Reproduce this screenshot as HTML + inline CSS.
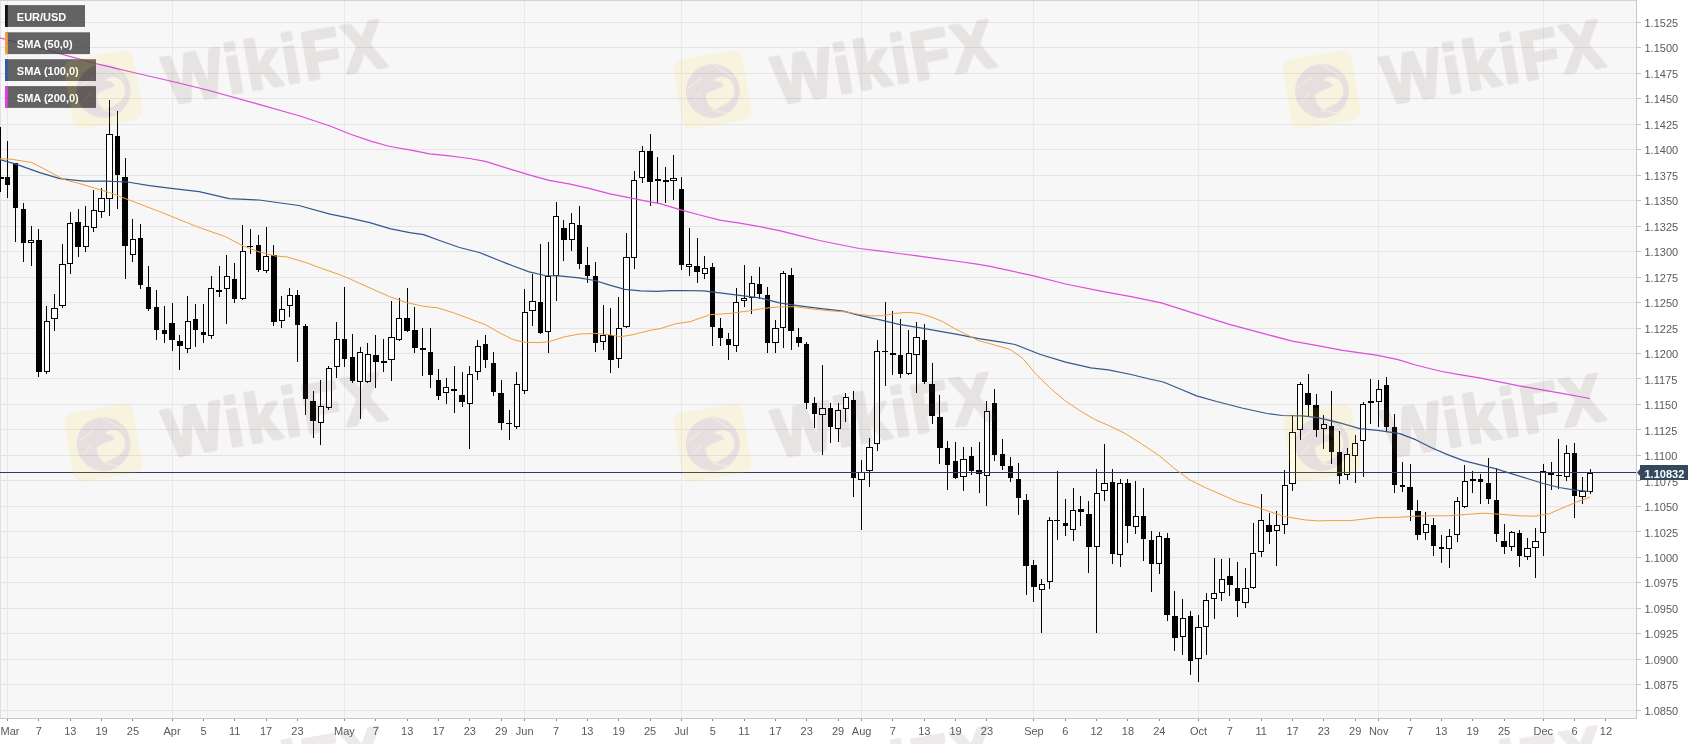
<!DOCTYPE html>
<html lang="en"><head><meta charset="utf-8"><title>EUR/USD daily chart</title>
<style>html,body{margin:0;padding:0;background:#fff}body{width:1707px;height:744px;overflow:hidden}svg{display:block;will-change:transform;opacity:0.999}text{font-family:"Liberation Sans",Arial,sans-serif}.ax{font-size:11px;fill:#5a5a5a}.lg{font-size:11px;font-weight:bold;fill:#fff}.wm{font-size:68px;font-weight:bold;fill:#715048;stroke:#715048;stroke-width:3px;stroke-linejoin:round;letter-spacing:3px}</style></head><body>
<svg width="1707" height="744" viewBox="0 0 1707 744">
<rect x="0" y="0" width="1707" height="744" fill="#fff"/>
<defs><clipPath id="cp"><rect x="0" y="0" width="1636.5" height="718.0"/></clipPath></defs>
<rect x="0" y="0" width="1636.5" height="718.0" fill="#f7f7f7"/>
<g stroke="#e4e4e4" stroke-width="1" shape-rendering="crispEdges">
<line x1="0" y1="22.2" x2="1636.5" y2="22.2"/>
<line x1="0" y1="47.69" x2="1636.5" y2="47.69"/>
<line x1="0" y1="73.17" x2="1636.5" y2="73.17"/>
<line x1="0" y1="98.66" x2="1636.5" y2="98.66"/>
<line x1="0" y1="124.14" x2="1636.5" y2="124.14"/>
<line x1="0" y1="149.62" x2="1636.5" y2="149.62"/>
<line x1="0" y1="175.11" x2="1636.5" y2="175.11"/>
<line x1="0" y1="200.59" x2="1636.5" y2="200.59"/>
<line x1="0" y1="226.08" x2="1636.5" y2="226.08"/>
<line x1="0" y1="251.56" x2="1636.5" y2="251.56"/>
<line x1="0" y1="277.05" x2="1636.5" y2="277.05"/>
<line x1="0" y1="302.53" x2="1636.5" y2="302.53"/>
<line x1="0" y1="328.02" x2="1636.5" y2="328.02"/>
<line x1="0" y1="353.5" x2="1636.5" y2="353.5"/>
<line x1="0" y1="378.99" x2="1636.5" y2="378.99"/>
<line x1="0" y1="404.47" x2="1636.5" y2="404.47"/>
<line x1="0" y1="429.96" x2="1636.5" y2="429.96"/>
<line x1="0" y1="455.44" x2="1636.5" y2="455.44"/>
<line x1="0" y1="480.93" x2="1636.5" y2="480.93"/>
<line x1="0" y1="506.41" x2="1636.5" y2="506.41"/>
<line x1="0" y1="531.9" x2="1636.5" y2="531.9"/>
<line x1="0" y1="557.38" x2="1636.5" y2="557.38"/>
<line x1="0" y1="582.87" x2="1636.5" y2="582.87"/>
<line x1="0" y1="608.36" x2="1636.5" y2="608.36"/>
<line x1="0" y1="633.84" x2="1636.5" y2="633.84"/>
<line x1="0" y1="659.33" x2="1636.5" y2="659.33"/>
<line x1="0" y1="684.81" x2="1636.5" y2="684.81"/>
<line x1="0" y1="710.3" x2="1636.5" y2="710.3"/>
<line x1="7.57" y1="0" x2="7.57" y2="718.0" stroke="#e9e9e9"/>
<line x1="172.1" y1="0" x2="172.1" y2="718.0" stroke="#e9e9e9"/>
<line x1="344.47" y1="0" x2="344.47" y2="718.0" stroke="#e9e9e9"/>
<line x1="524.68" y1="0" x2="524.68" y2="718.0" stroke="#e9e9e9"/>
<line x1="681.38" y1="0" x2="681.38" y2="718.0" stroke="#e9e9e9"/>
<line x1="861.59" y1="0" x2="861.59" y2="718.0" stroke="#e9e9e9"/>
<line x1="1033.95" y1="0" x2="1033.95" y2="718.0" stroke="#e9e9e9"/>
<line x1="1198.49" y1="0" x2="1198.49" y2="718.0" stroke="#e9e9e9"/>
<line x1="1378.69" y1="0" x2="1378.69" y2="718.0" stroke="#e9e9e9"/>
<line x1="1543.23" y1="0" x2="1543.23" y2="718.0" stroke="#e9e9e9"/>
<line x1="0.5" y1="0" x2="0.5" y2="718.0" stroke="#dfe1e6"/>
</g>
<line x1="0" y1="0.5" x2="1636.5" y2="0.5" stroke="#cfd2da" stroke-width="1"/>
<g clip-path="url(#cp)">
<g stroke="#000" stroke-width="1" shape-rendering="crispEdges">
<line x1="0.5" y1="126.9" x2="0.5" y2="191.6"/>
<rect x="-2.1" y="177.2" width="5.2" height="1.5" fill="#fff"/>
<line x1="7.57" y1="140.8" x2="7.57" y2="197.6"/>
<rect x="4.87" y="176.7" width="5.4" height="8.5" fill="#000" stroke="none"/>
<line x1="15.41" y1="162.7" x2="15.41" y2="241.9"/>
<rect x="12.71" y="162.7" width="5.4" height="44.8" fill="#000" stroke="none"/>
<line x1="23.24" y1="202.5" x2="23.24" y2="261.9"/>
<rect x="20.54" y="208.5" width="5.4" height="34.4" fill="#000" stroke="none"/>
<line x1="31.07" y1="225.5" x2="31.07" y2="265.8"/>
<rect x="28.47" y="240.4" width="5.2" height="2.4" fill="#fff"/>
<line x1="38.91" y1="229.4" x2="38.91" y2="377.4"/>
<rect x="36.21" y="239.9" width="5.4" height="131.9" fill="#000" stroke="none"/>
<line x1="46.74" y1="306.3" x2="46.74" y2="374.2"/>
<rect x="44.14" y="321.7" width="5.2" height="50.2" fill="#fff"/>
<line x1="54.58" y1="293.7" x2="54.58" y2="330.6"/>
<rect x="51.98" y="308.8" width="5.2" height="9.7" fill="#fff"/>
<line x1="62.41" y1="243.9" x2="62.41" y2="307.7"/>
<rect x="59.81" y="264.9" width="5.2" height="40.9" fill="#fff"/>
<line x1="70.25" y1="211.5" x2="70.25" y2="273.8"/>
<rect x="67.65" y="223.6" width="5.2" height="40.1" fill="#fff"/>
<line x1="78.09" y1="208.5" x2="78.09" y2="256.9"/>
<rect x="75.39" y="222.1" width="5.4" height="25.2" fill="#000" stroke="none"/>
<line x1="85.92" y1="205.5" x2="85.92" y2="251.9"/>
<rect x="83.32" y="226" width="5.2" height="20.8" fill="#fff"/>
<line x1="93.75" y1="189.6" x2="93.75" y2="232.4"/>
<rect x="91.16" y="210.6" width="5.2" height="17.3" fill="#fff"/>
<line x1="101.59" y1="187.6" x2="101.59" y2="217.5"/>
<rect x="98.99" y="198.5" width="5.2" height="13.1" fill="#fff"/>
<line x1="109.43" y1="100" x2="109.43" y2="215.5"/>
<rect x="106.83" y="134.7" width="5.2" height="64" fill="#fff"/>
<line x1="117.26" y1="110.5" x2="117.26" y2="208.5"/>
<rect x="114.56" y="135.8" width="5.4" height="39.3" fill="#000" stroke="none"/>
<line x1="125.09" y1="158.3" x2="125.09" y2="279.2"/>
<rect x="122.39" y="177.1" width="5.4" height="69.2" fill="#000" stroke="none"/>
<line x1="132.93" y1="218.5" x2="132.93" y2="261.9"/>
<rect x="130.33" y="239" width="5.2" height="15.8" fill="#fff"/>
<line x1="140.76" y1="223.5" x2="140.76" y2="288.7"/>
<rect x="138.06" y="237.9" width="5.4" height="47.3" fill="#000" stroke="none"/>
<line x1="148.6" y1="265.8" x2="148.6" y2="310.7"/>
<rect x="145.9" y="287.2" width="5.4" height="21.5" fill="#000" stroke="none"/>
<line x1="156.44" y1="289.7" x2="156.44" y2="339.5"/>
<rect x="153.74" y="307.1" width="5.4" height="22.9" fill="#000" stroke="none"/>
<line x1="164.27" y1="305.7" x2="164.27" y2="342.9"/>
<rect x="161.57" y="330" width="5.4" height="4.2" fill="#000" stroke="none"/>
<line x1="172.1" y1="302.7" x2="172.1" y2="350.5"/>
<rect x="169.41" y="322.6" width="5.4" height="17.5" fill="#000" stroke="none"/>
<line x1="179.94" y1="334.6" x2="179.94" y2="370.4"/>
<rect x="177.24" y="340.5" width="5.4" height="5" fill="#000" stroke="none"/>
<line x1="187.78" y1="296.3" x2="187.78" y2="353.1"/>
<rect x="185.18" y="321.1" width="5.2" height="27.3" fill="#fff"/>
<line x1="195.61" y1="303.7" x2="195.61" y2="346.9"/>
<rect x="192.91" y="318.6" width="5.4" height="11.4" fill="#000" stroke="none"/>
<line x1="203.44" y1="304.3" x2="203.44" y2="342.9"/>
<rect x="200.75" y="332" width="5.4" height="3.2" fill="#000" stroke="none"/>
<line x1="211.28" y1="276.4" x2="211.28" y2="338.9"/>
<rect x="208.68" y="288.2" width="5.2" height="46.9" fill="#fff"/>
<line x1="219.11" y1="266.4" x2="219.11" y2="297.1"/>
<rect x="216.51" y="290.8" width="5.2" height="1" fill="#fff"/>
<line x1="226.95" y1="254.9" x2="226.95" y2="323.6"/>
<rect x="224.35" y="276.9" width="5.2" height="11.3" fill="#fff"/>
<line x1="234.78" y1="263.2" x2="234.78" y2="303.1"/>
<rect x="232.09" y="278.8" width="5.4" height="19.9" fill="#000" stroke="none"/>
<line x1="242.62" y1="224.5" x2="242.62" y2="300.3"/>
<rect x="240.02" y="251.4" width="5.2" height="46.8" fill="#fff"/>
<line x1="250.45" y1="229.4" x2="250.45" y2="253.9"/>
<line x1="247.45" y1="246.7" x2="253.45" y2="246.7" stroke-width="1.4"/>
<line x1="258.29" y1="235.4" x2="258.29" y2="272.4"/>
<rect x="255.59" y="244.9" width="5.4" height="25.5" fill="#000" stroke="none"/>
<line x1="266.12" y1="226.5" x2="266.12" y2="272.8"/>
<rect x="263.52" y="256.4" width="5.2" height="14.3" fill="#fff"/>
<line x1="273.96" y1="245.3" x2="273.96" y2="326.2"/>
<rect x="271.26" y="254.5" width="5.4" height="67.1" fill="#000" stroke="none"/>
<line x1="281.8" y1="295.7" x2="281.8" y2="328.2"/>
<rect x="279.19" y="309.8" width="5.2" height="10.3" fill="#fff"/>
<line x1="289.63" y1="287.7" x2="289.63" y2="316.6"/>
<rect x="287.03" y="295.6" width="5.2" height="10.2" fill="#fff"/>
<line x1="297.46" y1="289.7" x2="297.46" y2="361.5"/>
<rect x="294.76" y="295.1" width="5.4" height="29.5" fill="#000" stroke="none"/>
<line x1="305.3" y1="323.6" x2="305.3" y2="414.7"/>
<rect x="302.6" y="326.2" width="5.4" height="72.5" fill="#000" stroke="none"/>
<line x1="313.13" y1="390.8" x2="313.13" y2="437.6"/>
<rect x="310.44" y="401.3" width="5.4" height="19.3" fill="#000" stroke="none"/>
<line x1="320.97" y1="379.8" x2="320.97" y2="444.5"/>
<rect x="318.37" y="406.6" width="5.2" height="16.1" fill="#fff"/>
<line x1="328.81" y1="365.5" x2="328.81" y2="410.1"/>
<rect x="326.2" y="368.7" width="5.2" height="38.9" fill="#fff"/>
<line x1="336.64" y1="322.4" x2="336.64" y2="377.8"/>
<rect x="334.04" y="339.1" width="5.2" height="27.6" fill="#fff"/>
<line x1="344.47" y1="286.5" x2="344.47" y2="366.6"/>
<rect x="341.77" y="338.7" width="5.4" height="19.9" fill="#000" stroke="none"/>
<line x1="352.31" y1="333.7" x2="352.31" y2="383.2"/>
<rect x="349.61" y="357.2" width="5.4" height="24" fill="#000" stroke="none"/>
<line x1="360.14" y1="346.6" x2="360.14" y2="419.4"/>
<rect x="357.54" y="352.5" width="5.2" height="29.2" fill="#fff"/>
<line x1="367.98" y1="342.6" x2="367.98" y2="383"/>
<rect x="365.38" y="354.5" width="5.2" height="27.2" fill="#fff"/>
<line x1="375.81" y1="334.7" x2="375.81" y2="387.5"/>
<rect x="373.12" y="355.2" width="5.4" height="6.4" fill="#000" stroke="none"/>
<line x1="383.65" y1="338.7" x2="383.65" y2="371.5"/>
<line x1="380.65" y1="362" x2="386.65" y2="362" stroke-width="1.4"/>
<line x1="391.49" y1="301.4" x2="391.49" y2="380.5"/>
<rect x="388.88" y="337.8" width="5.2" height="21.9" fill="#fff"/>
<line x1="399.32" y1="298.4" x2="399.32" y2="340.5"/>
<rect x="396.72" y="318.8" width="5.2" height="20.4" fill="#fff"/>
<line x1="407.15" y1="287.5" x2="407.15" y2="331.5"/>
<rect x="404.45" y="318.3" width="5.4" height="12.4" fill="#000" stroke="none"/>
<line x1="414.99" y1="307.4" x2="414.99" y2="352.6"/>
<rect x="412.29" y="330.3" width="5.4" height="17.3" fill="#000" stroke="none"/>
<line x1="422.82" y1="327.7" x2="422.82" y2="376.1"/>
<line x1="419.82" y1="349" x2="425.82" y2="349" stroke-width="1.4"/>
<line x1="430.66" y1="327.7" x2="430.66" y2="387.5"/>
<rect x="427.96" y="351.6" width="5.4" height="23.5" fill="#000" stroke="none"/>
<line x1="438.5" y1="368.5" x2="438.5" y2="400.3"/>
<rect x="435.8" y="380.1" width="5.4" height="15.5" fill="#000" stroke="none"/>
<line x1="446.33" y1="377.5" x2="446.33" y2="404.3"/>
<rect x="443.73" y="387" width="5.2" height="5.7" fill="#fff"/>
<line x1="454.16" y1="365.6" x2="454.16" y2="413.4"/>
<rect x="451.46" y="388.5" width="5.4" height="2.9" fill="#000" stroke="none"/>
<line x1="462" y1="371.5" x2="462" y2="406.5"/>
<rect x="459.3" y="394.5" width="5.4" height="7.4" fill="#000" stroke="none"/>
<line x1="469.83" y1="365.6" x2="469.83" y2="448.7"/>
<rect x="467.23" y="374" width="5.2" height="29.8" fill="#fff"/>
<line x1="477.67" y1="339.7" x2="477.67" y2="380.2"/>
<rect x="475.07" y="346.1" width="5.2" height="25.8" fill="#fff"/>
<line x1="485.5" y1="335.3" x2="485.5" y2="367.5"/>
<rect x="482.81" y="344.2" width="5.4" height="15.4" fill="#000" stroke="none"/>
<line x1="493.34" y1="351.6" x2="493.34" y2="395.5"/>
<rect x="490.64" y="362.6" width="5.4" height="29.1" fill="#000" stroke="none"/>
<line x1="501.18" y1="379.5" x2="501.18" y2="430.4"/>
<rect x="498.48" y="392.8" width="5.4" height="30.6" fill="#000" stroke="none"/>
<line x1="509.01" y1="410.4" x2="509.01" y2="439.7"/>
<line x1="506.01" y1="423.4" x2="512.01" y2="423.4" stroke-width="1.4"/>
<line x1="516.85" y1="371.7" x2="516.85" y2="429.4"/>
<rect x="514.25" y="384" width="5.2" height="42.3" fill="#fff"/>
<line x1="524.68" y1="288.5" x2="524.68" y2="394.3"/>
<rect x="522.08" y="312.3" width="5.2" height="78.4" fill="#fff"/>
<line x1="532.52" y1="273.9" x2="532.52" y2="326.3"/>
<rect x="529.92" y="301.3" width="5.2" height="9.6" fill="#fff"/>
<line x1="540.35" y1="244.1" x2="540.35" y2="334"/>
<rect x="537.65" y="301.8" width="5.4" height="31.5" fill="#000" stroke="none"/>
<line x1="548.19" y1="241.5" x2="548.19" y2="353.2"/>
<rect x="545.59" y="276" width="5.2" height="55.8" fill="#fff"/>
<line x1="556.02" y1="202.3" x2="556.02" y2="301.2"/>
<rect x="553.42" y="216.7" width="5.2" height="58.3" fill="#fff"/>
<line x1="563.86" y1="219.6" x2="563.86" y2="261.3"/>
<rect x="561.15" y="228.2" width="5.4" height="11.3" fill="#000" stroke="none"/>
<line x1="571.69" y1="212.6" x2="571.69" y2="250.5"/>
<rect x="569.09" y="223.7" width="5.2" height="15.3" fill="#fff"/>
<line x1="579.53" y1="206.3" x2="579.53" y2="268.9"/>
<rect x="576.83" y="225.2" width="5.4" height="39.2" fill="#000" stroke="none"/>
<line x1="587.36" y1="246.5" x2="587.36" y2="282.9"/>
<rect x="584.66" y="264.5" width="5.4" height="11.4" fill="#000" stroke="none"/>
<line x1="595.2" y1="261.5" x2="595.2" y2="351.6"/>
<rect x="592.5" y="275.5" width="5.4" height="67.7" fill="#000" stroke="none"/>
<line x1="603.03" y1="305.4" x2="603.03" y2="350.2"/>
<rect x="600.43" y="335.8" width="5.2" height="6" fill="#fff"/>
<line x1="610.87" y1="308.4" x2="610.87" y2="372.5"/>
<rect x="608.16" y="335.3" width="5.4" height="24.3" fill="#000" stroke="none"/>
<line x1="618.7" y1="297.4" x2="618.7" y2="367.5"/>
<rect x="616.1" y="328.2" width="5.2" height="30.5" fill="#fff"/>
<line x1="626.54" y1="232.6" x2="626.54" y2="327.5"/>
<rect x="623.94" y="257" width="5.2" height="69.2" fill="#fff"/>
<line x1="634.37" y1="171.2" x2="634.37" y2="269.4"/>
<rect x="631.77" y="180.9" width="5.2" height="76.1" fill="#fff"/>
<line x1="642.21" y1="145.5" x2="642.21" y2="183.2"/>
<rect x="639.61" y="151.4" width="5.2" height="26.5" fill="#fff"/>
<line x1="650.04" y1="134" x2="650.04" y2="206.3"/>
<rect x="647.34" y="150.9" width="5.4" height="31.5" fill="#000" stroke="none"/>
<line x1="657.88" y1="156.9" x2="657.88" y2="202.7"/>
<rect x="655.27" y="179.7" width="5.2" height="1.2" fill="#fff"/>
<line x1="665.71" y1="167.4" x2="665.71" y2="203.1"/>
<line x1="662.71" y1="181" x2="668.71" y2="181" stroke-width="1.4"/>
<line x1="673.55" y1="155.3" x2="673.55" y2="200.3"/>
<rect x="670.95" y="178.9" width="5.2" height="2" fill="#fff"/>
<line x1="681.38" y1="177.2" x2="681.38" y2="270.2"/>
<rect x="678.68" y="189.1" width="5.4" height="76.3" fill="#000" stroke="none"/>
<line x1="689.22" y1="228.2" x2="689.22" y2="275.9"/>
<rect x="686.62" y="264.5" width="5.2" height="1.5" fill="#fff"/>
<line x1="697.05" y1="238.1" x2="697.05" y2="282.9"/>
<rect x="694.35" y="266.4" width="5.4" height="5.5" fill="#000" stroke="none"/>
<line x1="704.88" y1="255.5" x2="704.88" y2="279.3"/>
<rect x="702.28" y="268.7" width="5.2" height="4.3" fill="#fff"/>
<line x1="712.72" y1="262.5" x2="712.72" y2="346.2"/>
<rect x="710.02" y="267.1" width="5.4" height="59.6" fill="#000" stroke="none"/>
<line x1="720.56" y1="317.7" x2="720.56" y2="346.2"/>
<rect x="717.86" y="328.3" width="5.4" height="10" fill="#000" stroke="none"/>
<line x1="728.39" y1="332.7" x2="728.39" y2="360.2"/>
<rect x="725.69" y="339.3" width="5.4" height="5.3" fill="#000" stroke="none"/>
<line x1="736.23" y1="287.9" x2="736.23" y2="352.2"/>
<rect x="733.62" y="302.7" width="5.2" height="42.4" fill="#fff"/>
<line x1="744.06" y1="265.4" x2="744.06" y2="307.2"/>
<rect x="741.46" y="298.3" width="5.2" height="2.4" fill="#fff"/>
<line x1="751.9" y1="275.5" x2="751.9" y2="314.2"/>
<rect x="749.3" y="283" width="5.2" height="14.7" fill="#fff"/>
<line x1="759.73" y1="266.5" x2="759.73" y2="299.2"/>
<rect x="757.03" y="284.3" width="5.4" height="9.5" fill="#000" stroke="none"/>
<line x1="767.57" y1="286.9" x2="767.57" y2="352.6"/>
<rect x="764.87" y="295.2" width="5.4" height="47.4" fill="#000" stroke="none"/>
<line x1="775.4" y1="319.7" x2="775.4" y2="353.2"/>
<rect x="772.8" y="328.2" width="5.2" height="13.9" fill="#fff"/>
<line x1="783.24" y1="271.3" x2="783.24" y2="348.2"/>
<rect x="780.63" y="273.8" width="5.2" height="54" fill="#fff"/>
<line x1="791.07" y1="268.3" x2="791.07" y2="350.2"/>
<rect x="788.37" y="274.9" width="5.4" height="56.2" fill="#000" stroke="none"/>
<line x1="798.91" y1="327.7" x2="798.91" y2="347.2"/>
<rect x="796.21" y="337.3" width="5.4" height="5.3" fill="#000" stroke="none"/>
<line x1="806.74" y1="341.7" x2="806.74" y2="409.3"/>
<rect x="804.04" y="344.2" width="5.4" height="59.1" fill="#000" stroke="none"/>
<line x1="814.58" y1="397.4" x2="814.58" y2="428.2"/>
<rect x="811.88" y="402.5" width="5.4" height="11.4" fill="#000" stroke="none"/>
<line x1="822.41" y1="365.2" x2="822.41" y2="454.7"/>
<rect x="819.81" y="408" width="5.2" height="6.8" fill="#fff"/>
<line x1="830.25" y1="402.5" x2="830.25" y2="443.4"/>
<rect x="827.54" y="407.9" width="5.4" height="18.9" fill="#000" stroke="none"/>
<line x1="838.08" y1="402.9" x2="838.08" y2="442.2"/>
<rect x="835.48" y="410" width="5.2" height="18.7" fill="#fff"/>
<line x1="845.92" y1="392.5" x2="845.92" y2="421.9"/>
<rect x="843.32" y="397.5" width="5.2" height="10.9" fill="#fff"/>
<line x1="853.75" y1="390.5" x2="853.75" y2="496.6"/>
<rect x="851.05" y="399.9" width="5.4" height="78.3" fill="#000" stroke="none"/>
<line x1="861.59" y1="459.7" x2="861.59" y2="530.4"/>
<rect x="858.99" y="472.6" width="5.2" height="7.1" fill="#fff"/>
<line x1="869.42" y1="437.8" x2="869.42" y2="486.6"/>
<rect x="866.82" y="447.3" width="5.2" height="23.3" fill="#fff"/>
<line x1="877.25" y1="339.7" x2="877.25" y2="450.7"/>
<rect x="874.65" y="351.1" width="5.2" height="92.2" fill="#fff"/>
<line x1="885.09" y1="302.4" x2="885.09" y2="386.1"/>
<line x1="882.09" y1="351.2" x2="888.09" y2="351.2" stroke-width="1.4"/>
<line x1="892.93" y1="310.8" x2="892.93" y2="375.1"/>
<line x1="889.93" y1="354" x2="895.93" y2="354" stroke-width="1.4"/>
<line x1="900.76" y1="319.1" x2="900.76" y2="377.5"/>
<rect x="898.06" y="355.2" width="5.4" height="18.3" fill="#000" stroke="none"/>
<line x1="908.6" y1="329.7" x2="908.6" y2="374.5"/>
<rect x="906" y="353.1" width="5.2" height="20.5" fill="#fff"/>
<line x1="916.43" y1="321.7" x2="916.43" y2="392.5"/>
<rect x="913.83" y="337.8" width="5.2" height="16.9" fill="#fff"/>
<line x1="924.27" y1="323.7" x2="924.27" y2="383.5"/>
<rect x="921.57" y="340.1" width="5.4" height="42" fill="#000" stroke="none"/>
<line x1="932.1" y1="362.6" x2="932.1" y2="423.8"/>
<rect x="929.4" y="383.5" width="5.4" height="32.4" fill="#000" stroke="none"/>
<line x1="939.94" y1="394.5" x2="939.94" y2="463.7"/>
<rect x="937.24" y="416.5" width="5.4" height="31.2" fill="#000" stroke="none"/>
<line x1="947.77" y1="440.8" x2="947.77" y2="489.6"/>
<rect x="945.07" y="448.3" width="5.4" height="16.4" fill="#000" stroke="none"/>
<line x1="955.61" y1="441.8" x2="955.61" y2="478.6"/>
<rect x="952.9" y="461.3" width="5.4" height="16.3" fill="#000" stroke="none"/>
<line x1="963.44" y1="446.8" x2="963.44" y2="490.6"/>
<rect x="960.84" y="459.6" width="5.2" height="17.1" fill="#fff"/>
<line x1="971.28" y1="446.8" x2="971.28" y2="474.6"/>
<rect x="968.58" y="456.3" width="5.4" height="14.8" fill="#000" stroke="none"/>
<line x1="979.11" y1="441.8" x2="979.11" y2="492.6"/>
<rect x="976.41" y="470.1" width="5.4" height="3.5" fill="#000" stroke="none"/>
<line x1="986.95" y1="400.5" x2="986.95" y2="505.5"/>
<rect x="984.35" y="411.4" width="5.2" height="63.7" fill="#fff"/>
<line x1="994.78" y1="389.3" x2="994.78" y2="461.2"/>
<rect x="992.08" y="402.9" width="5.4" height="51.8" fill="#000" stroke="none"/>
<line x1="1002.62" y1="438.7" x2="1002.62" y2="470.2"/>
<rect x="999.91" y="453.7" width="5.4" height="11.9" fill="#000" stroke="none"/>
<line x1="1010.45" y1="456.7" x2="1010.45" y2="482"/>
<rect x="1007.75" y="465.6" width="5.4" height="12" fill="#000" stroke="none"/>
<line x1="1018.29" y1="462.6" x2="1018.29" y2="514.5"/>
<rect x="1015.59" y="478.6" width="5.4" height="19.7" fill="#000" stroke="none"/>
<line x1="1026.12" y1="493.5" x2="1026.12" y2="595.2"/>
<rect x="1023.42" y="500" width="5.4" height="65.7" fill="#000" stroke="none"/>
<line x1="1033.95" y1="559.7" x2="1033.95" y2="601.6"/>
<rect x="1031.25" y="564.7" width="5.4" height="22.5" fill="#000" stroke="none"/>
<line x1="1041.79" y1="578.7" x2="1041.79" y2="633.4"/>
<rect x="1039.19" y="584.1" width="5.2" height="5" fill="#fff"/>
<line x1="1049.62" y1="517.2" x2="1049.62" y2="589"/>
<rect x="1047.03" y="520.8" width="5.2" height="61" fill="#fff"/>
<line x1="1057.46" y1="470.6" x2="1057.46" y2="540.4"/>
<line x1="1054.46" y1="520.5" x2="1060.46" y2="520.5" stroke-width="1.4"/>
<line x1="1065.29" y1="498.5" x2="1065.29" y2="535.8"/>
<rect x="1062.59" y="522.9" width="5.4" height="3" fill="#000" stroke="none"/>
<line x1="1073.13" y1="487.5" x2="1073.13" y2="541.2"/>
<rect x="1070.53" y="510" width="5.2" height="19.4" fill="#fff"/>
<line x1="1080.96" y1="495.5" x2="1080.96" y2="525.9"/>
<rect x="1078.26" y="509" width="5.4" height="2.6" fill="#000" stroke="none"/>
<line x1="1088.8" y1="500.7" x2="1088.8" y2="572.7"/>
<rect x="1086.1" y="513.7" width="5.4" height="33.7" fill="#000" stroke="none"/>
<line x1="1096.63" y1="468.6" x2="1096.63" y2="632.5"/>
<rect x="1094.04" y="493" width="5.2" height="53.7" fill="#fff"/>
<line x1="1104.47" y1="444.3" x2="1104.47" y2="501.1"/>
<rect x="1101.87" y="483" width="5.2" height="7.6" fill="#fff"/>
<line x1="1112.3" y1="468.6" x2="1112.3" y2="564.3"/>
<rect x="1109.6" y="482" width="5.4" height="71.8" fill="#000" stroke="none"/>
<line x1="1120.14" y1="479.2" x2="1120.14" y2="567.1"/>
<rect x="1117.54" y="483" width="5.2" height="71.7" fill="#fff"/>
<line x1="1127.97" y1="479.2" x2="1127.97" y2="543.2"/>
<rect x="1125.27" y="483" width="5.4" height="42.9" fill="#000" stroke="none"/>
<line x1="1135.81" y1="481.2" x2="1135.81" y2="533.8"/>
<rect x="1133.21" y="516.8" width="5.2" height="9.6" fill="#fff"/>
<line x1="1143.64" y1="487.5" x2="1143.64" y2="561.1"/>
<rect x="1140.94" y="515.6" width="5.4" height="23.6" fill="#000" stroke="none"/>
<line x1="1151.48" y1="530.9" x2="1151.48" y2="592.2"/>
<rect x="1148.78" y="540.2" width="5.4" height="23.5" fill="#000" stroke="none"/>
<line x1="1159.31" y1="531.9" x2="1159.31" y2="574.1"/>
<rect x="1156.71" y="536.9" width="5.2" height="26.7" fill="#fff"/>
<line x1="1167.15" y1="532.5" x2="1167.15" y2="621.4"/>
<rect x="1164.45" y="537.8" width="5.4" height="77.1" fill="#000" stroke="none"/>
<line x1="1174.98" y1="590.6" x2="1174.98" y2="650.8"/>
<rect x="1172.28" y="616.2" width="5.4" height="22" fill="#000" stroke="none"/>
<line x1="1182.82" y1="599.1" x2="1182.82" y2="655.3"/>
<rect x="1180.22" y="618.9" width="5.2" height="18" fill="#fff"/>
<line x1="1190.65" y1="610.5" x2="1190.65" y2="675.3"/>
<rect x="1187.95" y="616" width="5.4" height="44.7" fill="#000" stroke="none"/>
<line x1="1198.49" y1="615.3" x2="1198.49" y2="681.6"/>
<rect x="1195.89" y="627" width="5.2" height="31.8" fill="#fff"/>
<line x1="1206.32" y1="592.5" x2="1206.32" y2="655.3"/>
<rect x="1203.72" y="600.1" width="5.2" height="26.6" fill="#fff"/>
<line x1="1214.16" y1="558.3" x2="1214.16" y2="618.5"/>
<rect x="1211.56" y="593" width="5.2" height="5.8" fill="#fff"/>
<line x1="1221.99" y1="558.7" x2="1221.99" y2="601.2"/>
<rect x="1219.39" y="579.2" width="5.2" height="13.5" fill="#fff"/>
<line x1="1229.83" y1="557.7" x2="1229.83" y2="596.2"/>
<rect x="1227.13" y="576.3" width="5.4" height="8.7" fill="#000" stroke="none"/>
<line x1="1237.66" y1="561.7" x2="1237.66" y2="616.9"/>
<rect x="1234.96" y="587.6" width="5.4" height="13" fill="#000" stroke="none"/>
<line x1="1245.5" y1="567.7" x2="1245.5" y2="608.1"/>
<rect x="1242.9" y="588.1" width="5.2" height="14.6" fill="#fff"/>
<line x1="1253.34" y1="522.9" x2="1253.34" y2="589"/>
<rect x="1250.74" y="553.7" width="5.2" height="34" fill="#fff"/>
<line x1="1261.17" y1="493.5" x2="1261.17" y2="557.2"/>
<rect x="1258.57" y="520" width="5.2" height="31.7" fill="#fff"/>
<line x1="1269" y1="513.4" x2="1269" y2="543.8"/>
<rect x="1266.3" y="524.9" width="5.4" height="7" fill="#000" stroke="none"/>
<line x1="1276.84" y1="510.5" x2="1276.84" y2="566.3"/>
<rect x="1274.24" y="525" width="5.2" height="5" fill="#fff"/>
<line x1="1284.67" y1="469.6" x2="1284.67" y2="534.2"/>
<rect x="1282.08" y="485" width="5.2" height="39.8" fill="#fff"/>
<line x1="1292.51" y1="414.8" x2="1292.51" y2="491.1"/>
<rect x="1289.91" y="432.3" width="5.2" height="50.7" fill="#fff"/>
<line x1="1300.35" y1="381.6" x2="1300.35" y2="439.7"/>
<rect x="1297.75" y="384.8" width="5.2" height="44.5" fill="#fff"/>
<line x1="1308.18" y1="374.4" x2="1308.18" y2="415.8"/>
<rect x="1305.48" y="393.3" width="5.4" height="11.6" fill="#000" stroke="none"/>
<line x1="1316.01" y1="394.3" x2="1316.01" y2="437.3"/>
<rect x="1313.31" y="405.3" width="5.4" height="24.5" fill="#000" stroke="none"/>
<line x1="1323.85" y1="414.8" x2="1323.85" y2="448.7"/>
<rect x="1321.25" y="424.5" width="5.2" height="3.6" fill="#fff"/>
<line x1="1331.68" y1="390.5" x2="1331.68" y2="463.6"/>
<rect x="1328.98" y="425.8" width="5.4" height="25.9" fill="#000" stroke="none"/>
<line x1="1339.52" y1="430.7" x2="1339.52" y2="483.5"/>
<rect x="1336.82" y="451.7" width="5.4" height="23.9" fill="#000" stroke="none"/>
<line x1="1347.36" y1="447.7" x2="1347.36" y2="479.5"/>
<rect x="1344.76" y="454.5" width="5.2" height="20.2" fill="#fff"/>
<line x1="1355.19" y1="435.3" x2="1355.19" y2="482.5"/>
<rect x="1352.59" y="443.8" width="5.2" height="11.3" fill="#fff"/>
<line x1="1363.02" y1="401.9" x2="1363.02" y2="476.6"/>
<rect x="1360.42" y="404.3" width="5.2" height="36.5" fill="#fff"/>
<line x1="1370.86" y1="378.5" x2="1370.86" y2="423.8"/>
<rect x="1368.26" y="401.4" width="5.2" height="1.5" fill="#fff"/>
<line x1="1378.69" y1="379.9" x2="1378.69" y2="426.8"/>
<rect x="1376.1" y="389" width="5.2" height="12" fill="#fff"/>
<line x1="1386.53" y1="377.4" x2="1386.53" y2="430.7"/>
<rect x="1383.83" y="385.3" width="5.4" height="41.9" fill="#000" stroke="none"/>
<line x1="1394.37" y1="414.4" x2="1394.37" y2="492.5"/>
<rect x="1391.66" y="427.2" width="5.4" height="57.3" fill="#000" stroke="none"/>
<line x1="1402.2" y1="462.4" x2="1402.2" y2="491.7"/>
<rect x="1399.5" y="484.9" width="5.4" height="1.6" fill="#000" stroke="none"/>
<line x1="1410.03" y1="463.5" x2="1410.03" y2="520.7"/>
<rect x="1407.33" y="486.9" width="5.4" height="23.2" fill="#000" stroke="none"/>
<line x1="1417.87" y1="500.4" x2="1417.87" y2="540.3"/>
<rect x="1415.17" y="511.1" width="5.4" height="24.2" fill="#000" stroke="none"/>
<line x1="1425.7" y1="512.2" x2="1425.7" y2="539.7"/>
<rect x="1423.11" y="524.8" width="5.2" height="7.8" fill="#fff"/>
<line x1="1433.54" y1="517.7" x2="1433.54" y2="555.6"/>
<rect x="1430.84" y="524.7" width="5.4" height="21.5" fill="#000" stroke="none"/>
<line x1="1441.38" y1="535.3" x2="1441.38" y2="562.6"/>
<rect x="1438.67" y="546.6" width="5.4" height="2" fill="#000" stroke="none"/>
<line x1="1449.21" y1="528.7" x2="1449.21" y2="568.1"/>
<rect x="1446.61" y="536.8" width="5.2" height="11.9" fill="#fff"/>
<line x1="1457.04" y1="497.4" x2="1457.04" y2="542.3"/>
<rect x="1454.44" y="501.9" width="5.2" height="32.3" fill="#fff"/>
<line x1="1464.88" y1="464.6" x2="1464.88" y2="507.9"/>
<rect x="1462.28" y="481.9" width="5.2" height="24.2" fill="#fff"/>
<line x1="1472.71" y1="470.5" x2="1472.71" y2="493.4"/>
<rect x="1470.12" y="479" width="5.2" height="1.7" fill="#fff"/>
<line x1="1480.55" y1="473.5" x2="1480.55" y2="504.4"/>
<rect x="1477.85" y="479.2" width="5.4" height="2.7" fill="#000" stroke="none"/>
<line x1="1488.38" y1="458.3" x2="1488.38" y2="504.4"/>
<rect x="1485.68" y="482.9" width="5.4" height="16.1" fill="#000" stroke="none"/>
<line x1="1496.22" y1="467.5" x2="1496.22" y2="542.3"/>
<rect x="1493.52" y="500" width="5.4" height="34.1" fill="#000" stroke="none"/>
<line x1="1504.05" y1="523.7" x2="1504.05" y2="554"/>
<rect x="1501.35" y="541.3" width="5.4" height="5.3" fill="#000" stroke="none"/>
<line x1="1511.89" y1="531.3" x2="1511.89" y2="551.2"/>
<rect x="1509.29" y="532.8" width="5.2" height="13.3" fill="#fff"/>
<line x1="1519.72" y1="529.7" x2="1519.72" y2="566.6"/>
<rect x="1517.02" y="533.1" width="5.4" height="23.1" fill="#000" stroke="none"/>
<line x1="1527.56" y1="537.7" x2="1527.56" y2="560.2"/>
<rect x="1524.96" y="548.7" width="5.2" height="7.4" fill="#fff"/>
<line x1="1535.39" y1="527.7" x2="1535.39" y2="577.5"/>
<rect x="1532.8" y="541.2" width="5.2" height="6.5" fill="#fff"/>
<line x1="1543.23" y1="464.3" x2="1543.23" y2="555.6"/>
<rect x="1540.63" y="471" width="5.2" height="61.8" fill="#fff"/>
<line x1="1551.06" y1="461.5" x2="1551.06" y2="490.3"/>
<rect x="1548.36" y="471.8" width="5.4" height="3" fill="#000" stroke="none"/>
<line x1="1558.9" y1="438.7" x2="1558.9" y2="488.7"/>
<line x1="1555.9" y1="475.3" x2="1561.9" y2="475.3" stroke-width="1.4"/>
<line x1="1566.73" y1="445.3" x2="1566.73" y2="481.4"/>
<rect x="1564.13" y="453.1" width="5.2" height="22.9" fill="#fff"/>
<line x1="1574.57" y1="443.3" x2="1574.57" y2="517.7"/>
<rect x="1571.87" y="453.2" width="5.4" height="42.8" fill="#000" stroke="none"/>
<line x1="1582.4" y1="476.6" x2="1582.4" y2="503.6"/>
<rect x="1579.81" y="491.5" width="5.2" height="4.6" fill="#fff"/>
<line x1="1590.24" y1="469" x2="1590.24" y2="493.6"/>
<rect x="1587.64" y="473" width="5.2" height="18.2" fill="#fff"/>
</g>
<line x1="0" y1="472.5" x2="1636.5" y2="472.5" stroke="#34385c" stroke-width="1.2"/>
<polyline points="0,37.8 50,51 97,63.8 140,74 178.8,83 207.2,90 255.4,103.4 300,116 330,126 349.9,134 369.8,140.9 389.8,146.5 409.7,149.9 429.6,153.9 449.5,155.9 469.4,158.5 485.4,161.3 509.3,168.8 529.2,174.8 549.1,180.4 569,183.8 589,188.3 608.9,193.7 628.8,197.7 648.7,201.7 660,203.7 679.9,209.7 699.8,215 719.8,220.2 739.7,223.2 759.6,226.6 779.5,230.6 799.4,235.6 819.4,240.5 839.3,244.5 859.2,248.5 879.1,250.9 899,253.5 919,256.1 938.9,258.9 958.8,261.5 978.7,264.4 990,266.4 1032.8,275.7 1065.6,284 1103.4,291.6 1131.1,296.6 1161.3,302.9 1196.6,314.2 1229.3,324.3 1262,333.1 1292.3,341.2 1317.5,345.7 1342.7,350.3 1377.9,355.3 1398.1,359.6 1415.6,365 1439.5,371 1459.4,374.6 1479.4,377.9 1499.3,381.9 1519.2,385.9 1539.1,389.3 1559,392.9 1579,396.5 1589.9,398.5" fill="none" stroke="#df4cdf" stroke-width="1.25" stroke-linejoin="round"/>
<polyline points="0,159.7 15.9,164.1 39.8,172.7 59.8,178.6 83.7,181.2 105.6,181.2 127.5,182 149.4,185.6 173.3,188.6 199.2,191.6 229.1,198.6 259,200 298.8,205.5 330,214.2 349.9,218.2 369.8,222.6 389.8,228.6 409.7,232.6 423.6,234.6 439.6,240.5 459.5,247.5 479.4,252.5 499.3,260.5 513.3,266 529.2,271.9 545.1,275.5 559.1,275.9 579,277.9 594.9,280.5 608.9,284.9 624.8,289.3 640.8,290.9 656.7,291.3 670,290.7 679.9,290.5 703.8,290.9 719.8,292.8 739.7,295.4 759.6,297.8 779.5,302.8 799.4,305.8 819.4,308.4 843.3,311.2 859.2,315.4 879.1,319.7 899,324.3 919,327.7 938.9,331.1 958.8,334.7 978.7,338.7 990,340.3 1000,341.8 1015.2,344.5 1040.4,354.5 1065.6,362.1 1090.8,367.9 1108.4,369.8 1131.1,374.5 1149.4,379 1163.3,382 1181.4,389.5 1196.6,395.8 1216.7,401.5 1241.9,408 1267.1,413.5 1282.2,415.5 1302.3,415.8 1317.5,417.6 1339.9,422.8 1359.8,428.7 1379.8,430.7 1399.7,433.7 1415.6,439.7 1431.6,447.7 1447.5,454.6 1463.4,460.6 1479.4,464.6 1495.3,468.6 1511.2,473.6 1527.2,478.5 1543.1,483.5 1559,487.5 1575,490.1 1590.3,491.5" fill="none" stroke="#33588c" stroke-width="1.25" stroke-linejoin="round"/>
<polyline points="0,158.7 12,159.3 31.6,162.5 45,169.3 59.8,177.4 66,180.2 79.7,183.6 109.6,192.6 125.5,198.6 159.4,211.5 199.2,227.5 225.1,236.5 243,245.9 259,251.9 274.9,255.9 286.9,256.9 306.8,262.8 322.7,268.8 340,274.8 349.9,278.9 369.8,287.9 389.8,296.8 407.7,302.8 423.6,306.4 437.6,307.8 453.5,312.8 469.4,318.7 485.4,324.7 499.3,332.7 513.3,339.7 525.2,342.3 539.2,342.6 549.1,341.7 565.1,336.7 579,334.1 594.9,333.3 608.9,334.7 620.8,336.7 632.8,334.7 648.7,330.7 660,328.7 675.9,323.7 689.9,321.7 709.8,314.8 729.7,313.4 749.6,310.8 763.6,308.4 779.5,306.8 795.5,306.8 811.4,308.8 829.3,310.8 845.3,311.8 859.2,314.4 871.2,315.8 883.1,315.8 895.1,313.4 907,312.4 919,313.4 930.9,316.8 942.9,321.7 954.8,328.7 966.8,334.7 978.7,340.7 990,343.7 1010.2,349.5 1022.7,358.3 1035.3,373.4 1050.5,388.5 1065.6,401.1 1080.7,411.2 1095.8,420 1109.5,425.8 1125.5,433.7 1141.4,443.7 1159.3,455.7 1173.3,467.6 1189.2,479.6 1205.1,487.5 1221.1,494.5 1237,501.5 1252.9,505.8 1268.9,511.4 1284.8,516.5 1304.7,519.9 1318.7,520.9 1330,520.6 1349.9,520.7 1375.8,517.7 1399.7,517.2 1423.6,515.8 1447.5,515.8 1467.4,514.4 1483.3,513.2 1499.3,514.2 1519.2,515.8 1535.1,516.2 1549.1,513.8 1563,507.8 1577,501.8 1590.3,497.2" fill="none" stroke="#eda13c" stroke-width="1.0" stroke-linejoin="round"/>
</g>
<g stroke="#c8c8c8" stroke-width="1" shape-rendering="crispEdges">
<line x1="1636.5" y1="0" x2="1636.5" y2="718.0"/>
<line x1="0" y1="718.0" x2="1636.5" y2="718.0"/>
<line x1="1636.5" y1="22.2" x2="1641.0" y2="22.2" stroke="#c4c4c4"/>
<line x1="1636.5" y1="47.69" x2="1641.0" y2="47.69" stroke="#c4c4c4"/>
<line x1="1636.5" y1="73.17" x2="1641.0" y2="73.17" stroke="#c4c4c4"/>
<line x1="1636.5" y1="98.66" x2="1641.0" y2="98.66" stroke="#c4c4c4"/>
<line x1="1636.5" y1="124.14" x2="1641.0" y2="124.14" stroke="#c4c4c4"/>
<line x1="1636.5" y1="149.62" x2="1641.0" y2="149.62" stroke="#c4c4c4"/>
<line x1="1636.5" y1="175.11" x2="1641.0" y2="175.11" stroke="#c4c4c4"/>
<line x1="1636.5" y1="200.59" x2="1641.0" y2="200.59" stroke="#c4c4c4"/>
<line x1="1636.5" y1="226.08" x2="1641.0" y2="226.08" stroke="#c4c4c4"/>
<line x1="1636.5" y1="251.56" x2="1641.0" y2="251.56" stroke="#c4c4c4"/>
<line x1="1636.5" y1="277.05" x2="1641.0" y2="277.05" stroke="#c4c4c4"/>
<line x1="1636.5" y1="302.53" x2="1641.0" y2="302.53" stroke="#c4c4c4"/>
<line x1="1636.5" y1="328.02" x2="1641.0" y2="328.02" stroke="#c4c4c4"/>
<line x1="1636.5" y1="353.5" x2="1641.0" y2="353.5" stroke="#c4c4c4"/>
<line x1="1636.5" y1="378.99" x2="1641.0" y2="378.99" stroke="#c4c4c4"/>
<line x1="1636.5" y1="404.47" x2="1641.0" y2="404.47" stroke="#c4c4c4"/>
<line x1="1636.5" y1="429.96" x2="1641.0" y2="429.96" stroke="#c4c4c4"/>
<line x1="1636.5" y1="455.44" x2="1641.0" y2="455.44" stroke="#c4c4c4"/>
<line x1="1636.5" y1="480.93" x2="1641.0" y2="480.93" stroke="#c4c4c4"/>
<line x1="1636.5" y1="506.41" x2="1641.0" y2="506.41" stroke="#c4c4c4"/>
<line x1="1636.5" y1="531.9" x2="1641.0" y2="531.9" stroke="#c4c4c4"/>
<line x1="1636.5" y1="557.38" x2="1641.0" y2="557.38" stroke="#c4c4c4"/>
<line x1="1636.5" y1="582.87" x2="1641.0" y2="582.87" stroke="#c4c4c4"/>
<line x1="1636.5" y1="608.36" x2="1641.0" y2="608.36" stroke="#c4c4c4"/>
<line x1="1636.5" y1="633.84" x2="1641.0" y2="633.84" stroke="#c4c4c4"/>
<line x1="1636.5" y1="659.33" x2="1641.0" y2="659.33" stroke="#c4c4c4"/>
<line x1="1636.5" y1="684.81" x2="1641.0" y2="684.81" stroke="#c4c4c4"/>
<line x1="1636.5" y1="710.3" x2="1641.0" y2="710.3" stroke="#c4c4c4"/>
</g>
<g class="ax">
<text x="1644.5" y="26.8">1.1525</text>
<text x="1644.5" y="52.29">1.1500</text>
<text x="1644.5" y="77.77">1.1475</text>
<text x="1644.5" y="103.25">1.1450</text>
<text x="1644.5" y="128.74">1.1425</text>
<text x="1644.5" y="154.22">1.1400</text>
<text x="1644.5" y="179.71">1.1375</text>
<text x="1644.5" y="205.19">1.1350</text>
<text x="1644.5" y="230.68">1.1325</text>
<text x="1644.5" y="256.17">1.1300</text>
<text x="1644.5" y="281.65">1.1275</text>
<text x="1644.5" y="307.13">1.1250</text>
<text x="1644.5" y="332.62">1.1225</text>
<text x="1644.5" y="358.11">1.1200</text>
<text x="1644.5" y="383.59">1.1175</text>
<text x="1644.5" y="409.07">1.1150</text>
<text x="1644.5" y="434.56">1.1125</text>
<text x="1644.5" y="460.05">1.1100</text>
<text x="1644.5" y="485.53">1.1075</text>
<text x="1644.5" y="511.01">1.1050</text>
<text x="1644.5" y="536.5">1.1025</text>
<text x="1644.5" y="561.99">1.1000</text>
<text x="1644.5" y="587.47">1.0975</text>
<text x="1644.5" y="612.96">1.0950</text>
<text x="1644.5" y="638.44">1.0925</text>
<text x="1644.5" y="663.93">1.0900</text>
<text x="1644.5" y="689.41">1.0875</text>
<text x="1644.5" y="714.9">1.0850</text>
</g>
<g class="ax" text-anchor="middle">
<text x="0.6" y="734.8" text-anchor="start">Mar</text>
<text x="38.91" y="734.8">7</text>
<text x="70.25" y="734.8">13</text>
<text x="101.59" y="734.8">19</text>
<text x="132.93" y="734.8">25</text>
<text x="172.1" y="734.8">Apr</text>
<text x="203.44" y="734.8">5</text>
<text x="234.78" y="734.8">11</text>
<text x="266.12" y="734.8">17</text>
<text x="297.46" y="734.8">23</text>
<text x="344.47" y="734.8">May</text>
<text x="375.81" y="734.8">7</text>
<text x="407.15" y="734.8">13</text>
<text x="438.5" y="734.8">17</text>
<text x="469.83" y="734.8">23</text>
<text x="501.18" y="734.8">29</text>
<text x="524.68" y="734.8">Jun</text>
<text x="556.02" y="734.8">7</text>
<text x="587.36" y="734.8">13</text>
<text x="618.7" y="734.8">19</text>
<text x="650.04" y="734.8">25</text>
<text x="681.38" y="734.8">Jul</text>
<text x="712.72" y="734.8">5</text>
<text x="744.06" y="734.8">11</text>
<text x="775.4" y="734.8">17</text>
<text x="806.74" y="734.8">23</text>
<text x="838.08" y="734.8">29</text>
<text x="861.59" y="734.8">Aug</text>
<text x="892.93" y="734.8">7</text>
<text x="924.27" y="734.8">13</text>
<text x="955.61" y="734.8">19</text>
<text x="986.95" y="734.8">23</text>
<text x="1033.95" y="734.8">Sep</text>
<text x="1065.29" y="734.8">6</text>
<text x="1096.63" y="734.8">12</text>
<text x="1127.97" y="734.8">18</text>
<text x="1159.31" y="734.8">24</text>
<text x="1198.49" y="734.8">Oct</text>
<text x="1229.83" y="734.8">7</text>
<text x="1261.17" y="734.8">11</text>
<text x="1292.51" y="734.8">17</text>
<text x="1323.85" y="734.8">23</text>
<text x="1355.19" y="734.8">29</text>
<text x="1378.69" y="734.8">Nov</text>
<text x="1410.03" y="734.8">7</text>
<text x="1441.38" y="734.8">13</text>
<text x="1472.71" y="734.8">19</text>
<text x="1504.05" y="734.8">25</text>
<text x="1543.23" y="734.8">Dec</text>
<text x="1574.57" y="734.8">6</text>
<text x="1605.91" y="734.8">12</text>
</g>
<g stroke="#8a8a8a" stroke-width="1" shape-rendering="crispEdges">
<line x1="7.57" y1="718.5" x2="7.57" y2="720.5"/>
<line x1="38.91" y1="718.5" x2="38.91" y2="720.5"/>
<line x1="70.25" y1="718.5" x2="70.25" y2="720.5"/>
<line x1="101.59" y1="718.5" x2="101.59" y2="720.5"/>
<line x1="132.93" y1="718.5" x2="132.93" y2="720.5"/>
<line x1="172.1" y1="718.5" x2="172.1" y2="720.5"/>
<line x1="203.44" y1="718.5" x2="203.44" y2="720.5"/>
<line x1="234.78" y1="718.5" x2="234.78" y2="720.5"/>
<line x1="266.12" y1="718.5" x2="266.12" y2="720.5"/>
<line x1="297.46" y1="718.5" x2="297.46" y2="720.5"/>
<line x1="344.47" y1="718.5" x2="344.47" y2="720.5"/>
<line x1="375.81" y1="718.5" x2="375.81" y2="720.5"/>
<line x1="407.15" y1="718.5" x2="407.15" y2="720.5"/>
<line x1="438.5" y1="718.5" x2="438.5" y2="720.5"/>
<line x1="469.83" y1="718.5" x2="469.83" y2="720.5"/>
<line x1="501.18" y1="718.5" x2="501.18" y2="720.5"/>
<line x1="524.68" y1="718.5" x2="524.68" y2="720.5"/>
<line x1="556.02" y1="718.5" x2="556.02" y2="720.5"/>
<line x1="587.36" y1="718.5" x2="587.36" y2="720.5"/>
<line x1="618.7" y1="718.5" x2="618.7" y2="720.5"/>
<line x1="650.04" y1="718.5" x2="650.04" y2="720.5"/>
<line x1="681.38" y1="718.5" x2="681.38" y2="720.5"/>
<line x1="712.72" y1="718.5" x2="712.72" y2="720.5"/>
<line x1="744.06" y1="718.5" x2="744.06" y2="720.5"/>
<line x1="775.4" y1="718.5" x2="775.4" y2="720.5"/>
<line x1="806.74" y1="718.5" x2="806.74" y2="720.5"/>
<line x1="838.08" y1="718.5" x2="838.08" y2="720.5"/>
<line x1="861.59" y1="718.5" x2="861.59" y2="720.5"/>
<line x1="892.93" y1="718.5" x2="892.93" y2="720.5"/>
<line x1="924.27" y1="718.5" x2="924.27" y2="720.5"/>
<line x1="955.61" y1="718.5" x2="955.61" y2="720.5"/>
<line x1="986.95" y1="718.5" x2="986.95" y2="720.5"/>
<line x1="1033.95" y1="718.5" x2="1033.95" y2="720.5"/>
<line x1="1065.29" y1="718.5" x2="1065.29" y2="720.5"/>
<line x1="1096.63" y1="718.5" x2="1096.63" y2="720.5"/>
<line x1="1127.97" y1="718.5" x2="1127.97" y2="720.5"/>
<line x1="1159.31" y1="718.5" x2="1159.31" y2="720.5"/>
<line x1="1198.49" y1="718.5" x2="1198.49" y2="720.5"/>
<line x1="1229.83" y1="718.5" x2="1229.83" y2="720.5"/>
<line x1="1261.17" y1="718.5" x2="1261.17" y2="720.5"/>
<line x1="1292.51" y1="718.5" x2="1292.51" y2="720.5"/>
<line x1="1323.85" y1="718.5" x2="1323.85" y2="720.5"/>
<line x1="1355.19" y1="718.5" x2="1355.19" y2="720.5"/>
<line x1="1378.69" y1="718.5" x2="1378.69" y2="720.5"/>
<line x1="1410.03" y1="718.5" x2="1410.03" y2="720.5"/>
<line x1="1441.38" y1="718.5" x2="1441.38" y2="720.5"/>
<line x1="1472.71" y1="718.5" x2="1472.71" y2="720.5"/>
<line x1="1504.05" y1="718.5" x2="1504.05" y2="720.5"/>
<line x1="1543.23" y1="718.5" x2="1543.23" y2="720.5"/>
<line x1="1574.57" y1="718.5" x2="1574.57" y2="720.5"/>
<line x1="1605.91" y1="718.5" x2="1605.91" y2="720.5"/>
</g>
<path d="M1637,472.5 L1640,469 L1640,465 L1688,465 L1688,480 L1640,480 L1640,476 Z" fill="#34495e"/>
<text x="1644.5" y="477.6" class="lg">1.10832</text>
<rect x="5" y="5.1" width="80" height="21.8" fill="#3d3d3d" fill-opacity="0.8"/><rect x="5" y="5.1" width="2.8" height="21.8" fill="#111"/><text x="16.8" y="20.9" class="lg">EUR/USD</text>
<rect x="5" y="32.3" width="85" height="21.8" fill="#3d3d3d" fill-opacity="0.8"/><rect x="5" y="32.3" width="2.8" height="21.8" fill="#f0a23a"/><text x="16.8" y="48.1" class="lg">SMA (50,0)</text>
<rect x="5" y="59.2" width="91" height="21.8" fill="#3d3d3d" fill-opacity="0.8"/><rect x="5" y="59.2" width="2.8" height="21.8" fill="#2c5f9e"/><text x="16.8" y="75" class="lg">SMA (100,0)</text>
<rect x="5" y="86.1" width="91" height="21.8" fill="#3d3d3d" fill-opacity="0.8"/><rect x="5" y="86.1" width="2.8" height="21.8" fill="#e23ee2"/><text x="16.8" y="101.9" class="lg">SMA (200,0)</text>
<g id="watermarks" opacity="0.12">
<g transform="translate(103.4,89.8) rotate(-10)"><rect x="-35" y="-35" width="70" height="70" rx="9" fill="#ffd52f"/><circle cx="0" cy="1.2" r="27" fill="#61372f"/><path d="M-7,3 L1,0.5 L12,-1.5 L10,-6 L3,-9 C10,-14 19,-10 21,-2 C23,7 18,14 11,16 L-1,20 C-7,17 -9,9 -7,3Z" fill="#f7cf3a"/><path d="M-24,-6 L-8,-14 M-22,8 L-12,0 M4,-25 L22,-9 M-4,20 L12,26" stroke="#e0b840" stroke-width="1" fill="none"/><text class="wm" transform="translate(61.5,26.4) scale(0.925,1)">WikiFX</text></g>
<g transform="translate(712.6,89.8) rotate(-10)"><rect x="-35" y="-35" width="70" height="70" rx="9" fill="#ffd52f"/><circle cx="0" cy="1.2" r="27" fill="#61372f"/><path d="M-7,3 L1,0.5 L12,-1.5 L10,-6 L3,-9 C10,-14 19,-10 21,-2 C23,7 18,14 11,16 L-1,20 C-7,17 -9,9 -7,3Z" fill="#f7cf3a"/><path d="M-24,-6 L-8,-14 M-22,8 L-12,0 M4,-25 L22,-9 M-4,20 L12,26" stroke="#e0b840" stroke-width="1" fill="none"/><text class="wm" transform="translate(61.5,26.4) scale(0.925,1)">WikiFX</text></g>
<g transform="translate(1321.8,89.8) rotate(-10)"><rect x="-35" y="-35" width="70" height="70" rx="9" fill="#ffd52f"/><circle cx="0" cy="1.2" r="27" fill="#61372f"/><path d="M-7,3 L1,0.5 L12,-1.5 L10,-6 L3,-9 C10,-14 19,-10 21,-2 C23,7 18,14 11,16 L-1,20 C-7,17 -9,9 -7,3Z" fill="#f7cf3a"/><path d="M-24,-6 L-8,-14 M-22,8 L-12,0 M4,-25 L22,-9 M-4,20 L12,26" stroke="#e0b840" stroke-width="1" fill="none"/><text class="wm" transform="translate(61.5,26.4) scale(0.925,1)">WikiFX</text></g>
<g transform="translate(103.4,442.8) rotate(-10)"><rect x="-35" y="-35" width="70" height="70" rx="9" fill="#ffd52f"/><circle cx="0" cy="1.2" r="27" fill="#61372f"/><path d="M-7,3 L1,0.5 L12,-1.5 L10,-6 L3,-9 C10,-14 19,-10 21,-2 C23,7 18,14 11,16 L-1,20 C-7,17 -9,9 -7,3Z" fill="#f7cf3a"/><path d="M-24,-6 L-8,-14 M-22,8 L-12,0 M4,-25 L22,-9 M-4,20 L12,26" stroke="#e0b840" stroke-width="1" fill="none"/><text class="wm" transform="translate(61.5,26.4) scale(0.925,1)">WikiFX</text></g>
<g transform="translate(712.6,442.8) rotate(-10)"><rect x="-35" y="-35" width="70" height="70" rx="9" fill="#ffd52f"/><circle cx="0" cy="1.2" r="27" fill="#61372f"/><path d="M-7,3 L1,0.5 L12,-1.5 L10,-6 L3,-9 C10,-14 19,-10 21,-2 C23,7 18,14 11,16 L-1,20 C-7,17 -9,9 -7,3Z" fill="#f7cf3a"/><path d="M-24,-6 L-8,-14 M-22,8 L-12,0 M4,-25 L22,-9 M-4,20 L12,26" stroke="#e0b840" stroke-width="1" fill="none"/><text class="wm" transform="translate(61.5,26.4) scale(0.925,1)">WikiFX</text></g>
<g transform="translate(1321.8,442.8) rotate(-10)"><rect x="-35" y="-35" width="70" height="70" rx="9" fill="#ffd52f"/><circle cx="0" cy="1.2" r="27" fill="#61372f"/><path d="M-7,3 L1,0.5 L12,-1.5 L10,-6 L3,-9 C10,-14 19,-10 21,-2 C23,7 18,14 11,16 L-1,20 C-7,17 -9,9 -7,3Z" fill="#f7cf3a"/><path d="M-24,-6 L-8,-14 M-22,8 L-12,0 M4,-25 L22,-9 M-4,20 L12,26" stroke="#e0b840" stroke-width="1" fill="none"/><text class="wm" transform="translate(61.5,26.4) scale(0.925,1)">WikiFX</text></g>
<g transform="translate(103.4,795.8) rotate(-10)"><rect x="-35" y="-35" width="70" height="70" rx="9" fill="#ffd52f"/><circle cx="0" cy="1.2" r="27" fill="#61372f"/><path d="M-7,3 L1,0.5 L12,-1.5 L10,-6 L3,-9 C10,-14 19,-10 21,-2 C23,7 18,14 11,16 L-1,20 C-7,17 -9,9 -7,3Z" fill="#f7cf3a"/><path d="M-24,-6 L-8,-14 M-22,8 L-12,0 M4,-25 L22,-9 M-4,20 L12,26" stroke="#e0b840" stroke-width="1" fill="none"/><text class="wm" transform="translate(61.5,26.4) scale(0.925,1)">WikiFX</text></g>
<g transform="translate(712.6,795.8) rotate(-10)"><rect x="-35" y="-35" width="70" height="70" rx="9" fill="#ffd52f"/><circle cx="0" cy="1.2" r="27" fill="#61372f"/><path d="M-7,3 L1,0.5 L12,-1.5 L10,-6 L3,-9 C10,-14 19,-10 21,-2 C23,7 18,14 11,16 L-1,20 C-7,17 -9,9 -7,3Z" fill="#f7cf3a"/><path d="M-24,-6 L-8,-14 M-22,8 L-12,0 M4,-25 L22,-9 M-4,20 L12,26" stroke="#e0b840" stroke-width="1" fill="none"/><text class="wm" transform="translate(61.5,26.4) scale(0.925,1)">WikiFX</text></g>
<g transform="translate(1321.8,795.8) rotate(-10)"><rect x="-35" y="-35" width="70" height="70" rx="9" fill="#ffd52f"/><circle cx="0" cy="1.2" r="27" fill="#61372f"/><path d="M-7,3 L1,0.5 L12,-1.5 L10,-6 L3,-9 C10,-14 19,-10 21,-2 C23,7 18,14 11,16 L-1,20 C-7,17 -9,9 -7,3Z" fill="#f7cf3a"/><path d="M-24,-6 L-8,-14 M-22,8 L-12,0 M4,-25 L22,-9 M-4,20 L12,26" stroke="#e0b840" stroke-width="1" fill="none"/><text class="wm" transform="translate(61.5,26.4) scale(0.925,1)">WikiFX</text></g>
</g>
</svg></body></html>
